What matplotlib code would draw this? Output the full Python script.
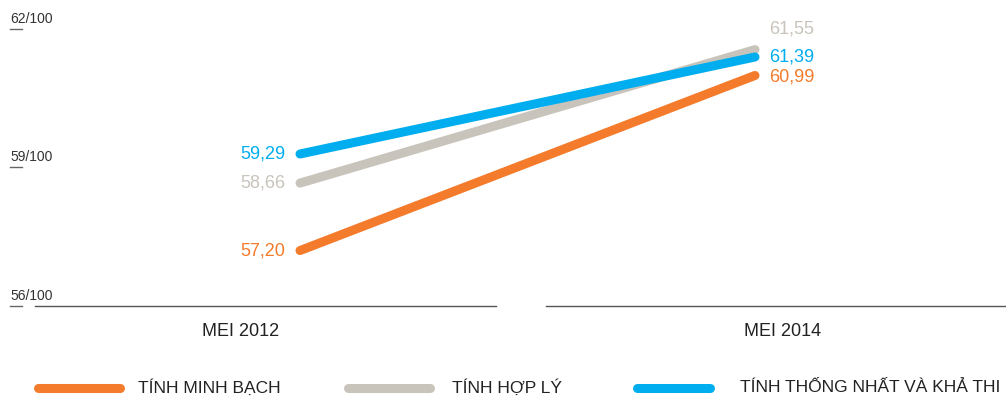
import matplotlib
matplotlib.use("Agg")
import matplotlib.pyplot as plt
from matplotlib.lines import Line2D
from matplotlib.transforms import blended_transform_factory

plt.rcParams['font.family'] = ['Liberation Sans', 'DejaVu Sans']

# Data
periods = ["MEI 2012", "MEI 2014"]
series_names = ["TÍNH MINH BẠCH", "TÍNH HỢP LÝ", "TÍNH THỐNG NHẤT VÀ KHẢ THI"]
minh_bach = [57.20, 60.99]
hop_ly = [58.66, 61.55]
thong_nhat = [59.29, 61.39]
y_ticks = [56, 59, 62]
y_tick_labels = ["56/100", "59/100", "62/100"]

colors = ["#F47B2B", "#C9C4BB", "#00AEEF"]
values = [minh_bach, hop_ly, thong_nhat]

W, H = 1006, 397
fig = plt.figure(figsize=(W / 100, H / 100), dpi=100)
ax = fig.add_axes([0, 0, 1, 1])
ax.set_axis_off()

# pixel geometry -> data limits
x0_px, x1_px = 300, 755
px_per_cat = x1_px - x0_px
ax.set_xlim(-x0_px / px_per_cat, (W - x0_px) / px_per_cat)
base_px, px_per_unit = 306, 46.2
ax.set_ylim(56 - (H - base_px) / px_per_unit, 56 + base_px / px_per_unit)

xs = list(range(len(periods)))
draw_order = [1, 2, 0]
for i in draw_order:
    ax.plot(xs, values[i], color=colors[i], lw=6.5, solid_capstyle="round", zorder=3)

# value labels
offsets_left = {0: 0, 1: 0, 2: 0}
offsets_right = {0: -2, 1: 21, 2: 0}
for i in range(3):
    ax.annotate(f"{values[i][0]:.2f}".replace(".", ","), (xs[0], values[i][0]),
                xytext=(-15, offsets_left[i]), textcoords="offset pixels",
                ha="right", va="center", color=colors[i], fontsize=13)
    ax.annotate(f"{values[i][1]:.2f}".replace(".", ","), (xs[1], values[i][1]),
                xytext=(14, offsets_right[i]), textcoords="offset pixels",
                ha="left", va="center", color=colors[i], fontsize=13)

# baseline segments
ax.axhline(56, xmin=35 / W, xmax=496 / W, color="#555555", lw=1.0)
ax.axhline(56, xmin=546 / W, xmax=1.0, color="#555555", lw=1.0)

# y tick labels with short dashes
tr = blended_transform_factory(ax.transAxes, ax.transData)
for v, lab in zip(y_ticks, y_tick_labels):
    ax.annotate(lab, (10 / W, v), xycoords=tr, xytext=(0, 3),
                textcoords="offset pixels", ha="left", va="bottom",
                fontsize=10, color="#333333")
    ax.plot([10 / W, 22 / W], [v, v], transform=tr, color="#666666", lw=1.0)

# category labels
for label, xc in zip(periods, [241, 783]):
    fig.text(xc / W, 1 - 331 / H, label, ha="center", va="center",
             fontsize=13, color="#222222")

# legend
leg_y = 1 - 388 / H
for (lx0, lx1, tx), name, c in zip([(38, 120, 138), (348, 430, 452), (637, 710, 740)],
                                   series_names, colors):
    fig.add_artist(Line2D([lx0 / W, lx1 / W], [leg_y, leg_y], color=c, lw=6.5,
                          solid_capstyle="round"))
    fig.text(tx / W, leg_y, name, ha="left", va="center", fontsize=12.5,
             color="#222222")

fig.savefig("out.png", dpi=100)
